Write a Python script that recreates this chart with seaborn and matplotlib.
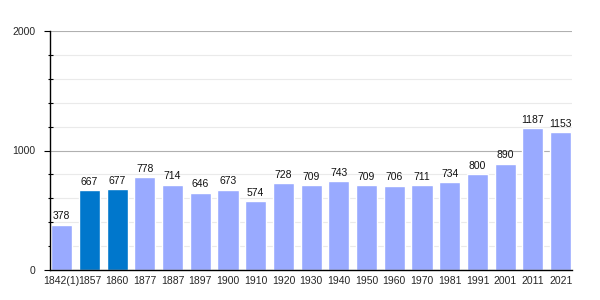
import matplotlib
matplotlib.use("Agg")
import matplotlib.pyplot as plt
import seaborn as sns
import pandas as pd
from matplotlib.ticker import MultipleLocator

years = ["1842(1)", "1857", "1860", "1877", "1887", "1897", "1900", "1910", "1920", "1930",
         "1940", "1950", "1960", "1970", "1981", "1991", "2001", "2011", "2021"]
population = [378, 667, 677, 778, 714, 646, 673, 574, 728, 709,
              743, 709, 706, 711, 734, 800, 890, 1187, 1153]
highlight = [False, True, True] + [False] * 16

light = "#99aaff"
dark = "#0077cc"

sns.set_style("white")
plt.rcParams['font.family'] = ['Liberation Sans', 'DejaVu Sans']

df = pd.DataFrame({"year": years, "pop": population,
                   "kind": ["h" if h else "n" for h in highlight]})

fig = plt.figure(figsize=(6, 3), dpi=100)
ax = fig.add_axes([50/600, 30/300, 522/600, 239/300])

ax.set_ylim(0, 2000)
ax.yaxis.set_major_locator(MultipleLocator(1000))
ax.yaxis.set_minor_locator(MultipleLocator(200))
ax.grid(True, which="minor", axis="y", color="#eaeaea", linewidth=0.8, zorder=0)
ax.grid(True, which="major", axis="y", color="#b0b0b0", linewidth=0.8, zorder=0)
ax.set_axisbelow(True)

sns.barplot(data=df, x="year", y="pop", hue="kind", palette={"n": light, "h": dark},
            dodge=False, width=0.76, legend=False, ax=ax, saturation=1, zorder=2)

for i, v in enumerate(population):
    ax.annotate(str(v), (i, v), xytext=(0, 2.5), textcoords="offset points",
                ha="center", va="bottom", fontsize=7.5, color="#111111")

ax.set_xlim(-0.42, len(years) - 0.59)
for s in ["top", "right"]:
    ax.spines[s].set_visible(False)
for s in ["left", "bottom"]:
    ax.spines[s].set_color("black")
    ax.spines[s].set_linewidth(1)
ax.tick_params(axis="y", which="major", left=True, length=4.3, width=0.8, labelsize=7.5, pad=6, color="black")
ax.tick_params(axis="y", which="minor", left=True, length=3.6, width=0.8, direction="inout", color="black")
ax.tick_params(axis="x", bottom=False, labelsize=7.5, pad=1)
ax.set_xlabel("")
ax.set_ylabel("")

fig.savefig("out.png", dpi=100)
